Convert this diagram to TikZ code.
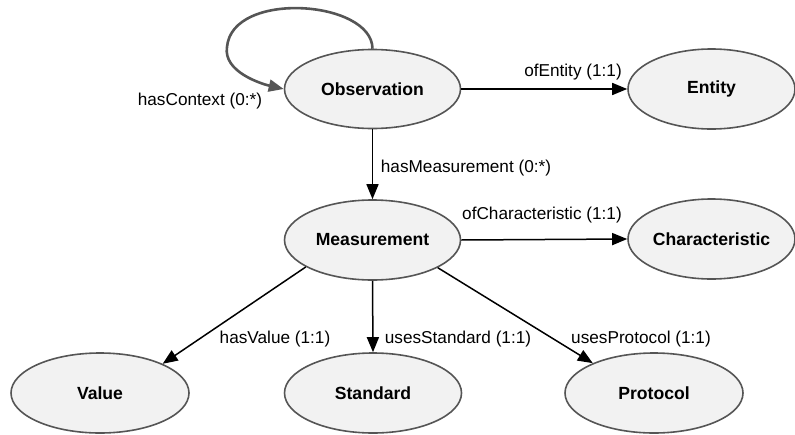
\documentclass[tikz,border=0pt]{standalone}
\usepackage{fontspec}
\setmainfont{Liberation Sans}
\usetikzlibrary{shapes.geometric,arrows.meta}
\definecolor{nodefill}{HTML}{F2F2F2}
\definecolor{nodeline}{HTML}{555555}
\begin{document}
\begin{tikzpicture}[x=1pt,y=-1pt,
  cls/.style={ellipse,draw=nodeline,line width=1.6pt,fill=nodefill,inner sep=0pt,
    font=\fontsize{17.6}{20}\selectfont\bfseries},
  lbl/.style={inner sep=0pt,font=\fontsize{17.2}{20}\selectfont},
  rel/.style={line width=1.5pt,-{Triangle[length=15pt,width=12pt]}},
  selfrel/.style={draw=nodeline,line width=2.6pt,-{Triangle[length=15pt,width=12pt]}}]
\useasboundingbox (0,0) rectangle (795,434);
\node[cls,minimum width=176pt,minimum height=79pt] (obs) at (372.5,89) {Observation};
\node[cls,minimum width=167pt,minimum height=80pt] (ent) at (711.5,89) {Entity};
\node[cls,minimum width=176pt,minimum height=80pt] (meas) at (372.5,240) {Measurement};
\node[cls,minimum width=167pt,minimum height=80pt] (char) at (711.5,239) {Characteristic};
\node[cls,minimum width=178pt,minimum height=80pt] (val) at (100,393) {Value};
\node[cls,minimum width=177pt,minimum height=80pt] (std) at (373,393) {Standard};
\node[cls,minimum width=178pt,minimum height=80pt] (prot) at (654,393) {Protocol};
% self loop
\coordinate (loopl) at (227,47);
\draw[selfrel] (obs.north) .. controls (372,0) and (232,-10) .. (loopl)
  .. controls (223,72) and (262,84) .. (obs.west);
\node[lbl] (lctx) at (200,101) {hasContext (0:*)};
% edges
\draw[rel] (obs.east) -- (ent.west);
\node[lbl] (lent) at (573,72) {ofEntity (1:1)};
\draw[rel] (obs.south) -- (meas.north);
\node[lbl] (lmeas) at (466,168) {hasMeasurement (0:*)};
\draw[rel] (meas.east) -- (char.west);
\node[lbl] (lchar) at (542,215) {ofCharacteristic (1:1)};
\draw[rel] (meas.202) -- (val.25);
\node[lbl] (lval) at (275,339) {hasValue (1:1)};
\draw[rel] (meas.south) -- (std.north);
\node[lbl] (lstd) at (458,339) {usesStandard (1:1)};
\draw[rel] (meas.337) -- (prot.154);
\node[lbl] (lprot) at (641,339) {usesProtocol (1:1)};
\end{tikzpicture}
\end{document}
